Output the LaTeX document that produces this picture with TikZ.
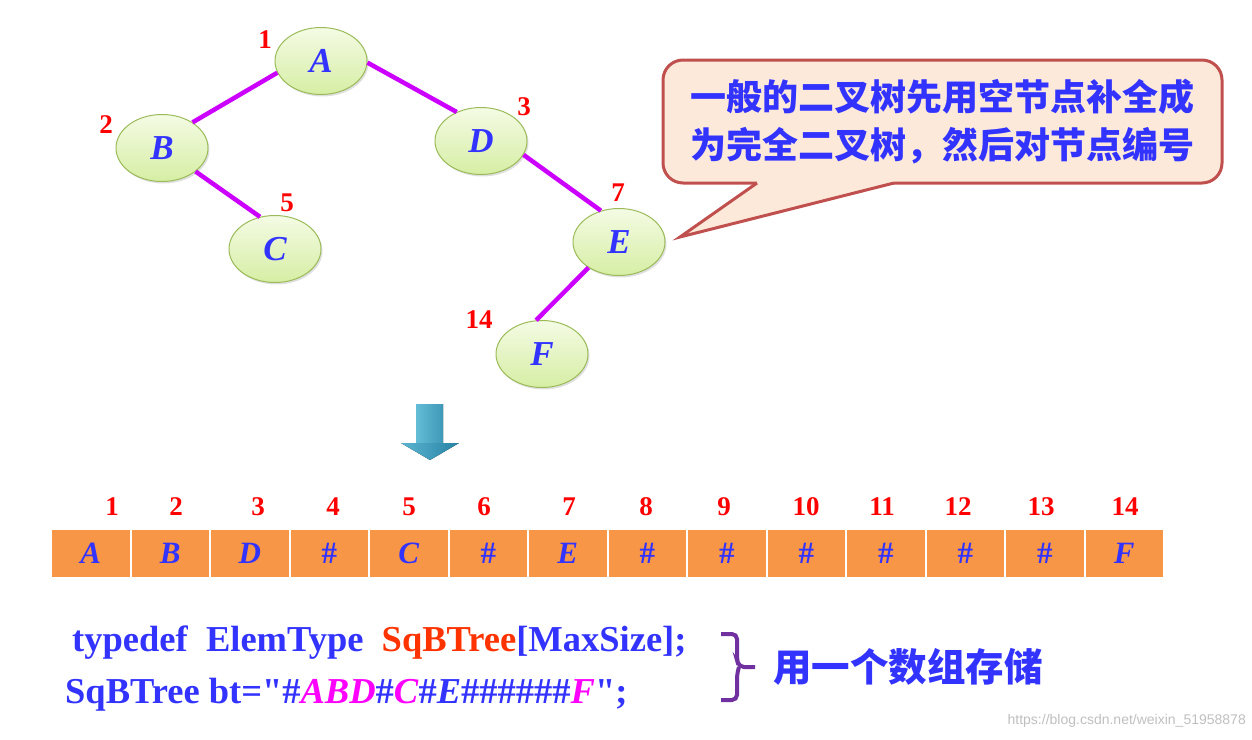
\documentclass[tikz,border=0pt]{standalone}
\usepackage{fontspec}
\setmainfont{Liberation Serif}[Ligatures=TeXOff]
\newfontfamily\cjk{Noto Sans CJK SC}
\newfontfamily\wmfont{Liberation Sans}
\usetikzlibrary{shadows,shapes.geometric}
\definecolor{tblue}{RGB}{51,51,255}
\definecolor{tred}{RGB}{255,0,0}
\definecolor{torange}{RGB}{255,51,0}
\definecolor{tmag}{RGB}{255,0,255}
\definecolor{edgec}{RGB}{204,0,255}
\definecolor{ellb}{RGB}{155,187,89}
\definecolor{elltop}{RGB}{244,251,228}
\definecolor{ellbot}{RGB}{214,238,164}
\definecolor{cofill}{RGB}{252,233,218}
\definecolor{coline}{RGB}{192,80,77}
\definecolor{cellc}{RGB}{247,150,70}
\definecolor{bracec}{RGB}{112,48,160}
\definecolor{arrl}{RGB}{120,210,232}
\definecolor{arrd}{RGB}{40,130,165}
\begin{document}
\begin{tikzpicture}[x=1pt,y=-1pt,
  tnode/.style={ellipse, draw=ellb, line width=1pt, minimum width=92pt, minimum height=67pt,
    inner sep=0pt, top color=elltop, bottom color=ellbot,
    drop shadow={opacity=0.25, shadow xshift=1.5pt, shadow yshift=-2pt},
    text=tblue, font=\fontsize{35}{35}\selectfont\bfseries\itshape},
  idx/.style={text=tred, font=\fontsize{27}{27}\selectfont\bfseries, inner sep=0pt},
  edge/.style={draw=edgec, line width=4.5pt},
  callout/.style={rectangle, rounded corners=20pt, draw=coline, fill=cofill, line width=3pt,
    minimum width=559pt, minimum height=123pt, text=tblue, align=left,
    font=\cjk\bfseries\fontsize{36}{48}\selectfont},
  cell/.style={rectangle, draw=white, line width=2pt, fill=cellc, minimum width=79.5pt,
    minimum height=49pt, inner sep=0pt, text=tblue, font=\fontsize{31}{31}\selectfont\bfseries},
  cnum/.style={text=tred, font=\fontsize{27}{27}\selectfont\bfseries, inner sep=0pt},
  code/.style={anchor=base west, inner sep=0pt, text=tblue, font=\fontsize{36.5}{36.5}\selectfont\bfseries}
]
\useasboundingbox (0,0) rectangle (1252,739);
% tree
\node[tnode] (A) at (321,61) {A};
\node[tnode] (B) at (162,148) {B};
\node[tnode] (C) at (275,249) {C};
\node[tnode] (D) at (481,141) {D};
\node[tnode] (E) at (619,242) {E};
\node[tnode] (F) at (542,354) {F};
\draw[edge] (A.195) -- (B.40);
\draw[edge] (A.-2) -- (D.130);
\draw[edge] (B.-35) -- (C.115);
\draw[edge] (D.-18) -- (E.120);
\draw[edge] (E.220) -- (F.100);
\node[idx] (iA) at (265,40) {1};
\node[idx] (iB) at (106,125) {2};
\node[idx] (iC) at (287,203) {5};
\node[idx] (iD) at (524,107) {3};
\node[idx] (iE) at (618,193) {7};
\node[idx] (iF) at (479,320) {14};
% callout
\node[callout] (co) at (942.5,121.5) {一般的二叉树先用空节点补全成\\为完全二叉树，然后对节点编号};
\coordinate (tip) at (680,237);
\fill[cofill] (757,179) -- (757,183) -- (tip) -- (894,183) -- (894,179) -- cycle;
\draw[coline, line width=3pt] (757,183) -- (tip) -- (894,183);
% down arrow
\fill[left color=arrl, right color=arrd] (416,404) -- (443,404) -- (443,443) -- (459,443) -- (430,460) -- (401,443) -- (416,443) -- cycle;
\fill[arrd, opacity=0.35] (430,460) -- (401,443) -- (459,443) -- cycle;
% array
\foreach \v [count=\i] in {{\textit{A}},{\textit{B}},{\textit{D}},{\#},{\textit{C}},{\#},{\textit{E}},{\#},{\#},{\#},{\#},{\#},{\#},{\textit{F}}}
  \node[cell] (c\i) at ({51+79.5*(\i-0.5)},553) {\v};
\foreach \x [count=\i] in {112,176,258,333,409,484,569,646,724,806,882,958,1041,1125}
  \node[cnum] (n\i) at (\x,507) {\i};
% code
\node[code] (l1) at (72,651) {typedef\hspace{0.5em}ElemType\hspace{0.5em}\textcolor{torange}{SqBTree}[MaxSize];};
\node[code] (l2) at (65,703) {SqBTree bt="\#\textcolor{tmag}{\textit{ABD}}\#\textcolor{tmag}{\textit{C}}\#\textit{E}\#\#\#\#\#\#\textcolor{tmag}{\textit{F}}";};
% brace
\draw[bracec, line width=4pt, rounded corners=5pt] (721,634) -- (737,634) -- (737,660) -- (739,667) -- (755,667);
\draw[bracec, line width=4pt, rounded corners=5pt] (739,667) -- (737,674) -- (737,700) -- (721,700);
\node[anchor=west, inner sep=0pt, text=tblue, font=\cjk\bfseries\fontsize{38.5}{38.5}\selectfont] (store) at (773,667) {用一个数组存储};
% watermark
\node[anchor=east, inner sep=0pt, text=black!25, font=\wmfont\fontsize{14}{14}\selectfont] (wm) at (1246,721) {https://blog.csdn.net/weixin\_51958878};
\end{tikzpicture}
\end{document}
